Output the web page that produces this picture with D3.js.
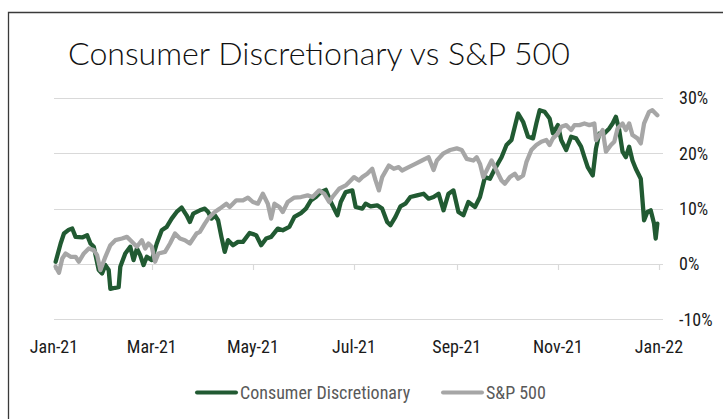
<!DOCTYPE html>
<html>
<head>
<meta charset="utf-8">
<script src="https://cdnjs.cloudflare.com/ajax/libs/d3/7.8.5/d3.min.js"></script>
<style>
    body { margin: 0; background: #fff; }
    svg { display: block; }
    .tick-label { font-family: "Liberation Sans Narrow", "Roboto Condensed", "Noto Sans", sans-serif; font-size: 18px; fill: #1a1a1a; }
    .legend-label { font-family: "Liberation Sans Narrow", "Roboto Condensed", "Noto Sans", sans-serif; font-size: 18px; fill: #595959; }
    .title { font-family: Lato, "Noto Sans", sans-serif; font-weight: 300; font-size: 30px; fill: #111; }
</style>
</head>
<body>
<div id="chart"></div>
<script>
// Consumer Discretionary sector, cumulative return 2021 (%)
const cdDates = ["2021-01-02","2021-01-05","2021-01-07","2021-01-10","2021-01-12","2021-01-14","2021-01-18","2021-01-21","2021-01-23","2021-01-25",
    "2021-01-28","2021-01-30","2021-02-01","2021-02-03","2021-02-04","2021-02-07","2021-02-09","2021-02-10","2021-02-13","2021-02-16",
    "2021-02-18","2021-02-20","2021-02-22","2021-02-24","2021-02-26","2021-03-01","2021-03-04","2021-03-07","2021-03-10","2021-03-13",
    "2021-03-16","2021-03-19","2021-03-22","2021-03-24","2021-03-26","2021-03-30","2021-04-02","2021-04-04","2021-04-06","2021-04-08",
    "2021-04-10","2021-04-12","2021-04-14","2021-04-16","2021-04-19","2021-04-22","2021-04-25","2021-04-29","2021-05-03","2021-05-06",
    "2021-05-09","2021-05-12","2021-05-16","2021-05-19","2021-05-23","2021-05-26","2021-05-30","2021-06-02","2021-06-05","2021-06-08",
    "2021-06-11","2021-06-14","2021-06-17","2021-06-20","2021-06-21","2021-06-23","2021-06-26","2021-06-30","2021-07-02","2021-07-06",
    "2021-07-08","2021-07-11","2021-07-15","2021-07-18","2021-07-21","2021-07-23","2021-07-26","2021-07-29","2021-08-01","2021-08-04",
    "2021-08-08","2021-08-12","2021-08-15","2021-08-18","2021-08-21","2021-08-24","2021-08-27","2021-08-30","2021-09-02","2021-09-05",
    "2021-09-08","2021-09-12","2021-09-15","2021-09-18","2021-09-21","2021-09-24","2021-09-28","2021-10-01","2021-10-04","2021-10-06",
    "2021-10-08","2021-10-11","2021-10-14","2021-10-17","2021-10-19","2021-10-21","2021-10-24","2021-10-27","2021-10-29","2021-11-01",
    "2021-11-03","2021-11-06","2021-11-09","2021-11-12","2021-11-15","2021-11-17","2021-11-19","2021-11-22","2021-11-24","2021-11-26",
    "2021-11-29","2021-12-02","2021-12-04","2021-12-06","2021-12-08","2021-12-10","2021-12-12","2021-12-14","2021-12-16","2021-12-18",
    "2021-12-21","2021-12-23","2021-12-25","2021-12-27","2021-12-29","2021-12-30","2021-12-31"];
const cdValues = [0.4, 3.7, 5.5, 6.2, 6.4, 4.9, 4.8, 5.2, 3.7, 3.1,
    -1.1, -1.7, -0.2, -1.1, -4.5, -4.3, -4.2, -0.5, 1.9, 3.1,
    0.7, 2.8, 1.6, -0.2, 1.3, 0.7, 3.7, 6.1, 6.7, 8.2,
    9.4, 10.2, 8.8, 7.6, 9.1, 9.7, 10.0, 9.4, 8.2, 8.8,
    7.9, 4.9, 2.2, 4.3, 3.4, 4.0, 4.0, 5.6, 5.2, 3.4,
    4.6, 4.9, 6.4, 6.1, 6.7, 8.5, 9.2, 10.0, 11.5, 12.1,
    13.0, 13.4, 11.2, 9.4, 8.8, 11.2, 13.0, 13.3, 10.3, 10.0,
    10.9, 10.4, 10.6, 10.0, 7.6, 7.0, 8.5, 10.4, 10.9, 12.1,
    12.4, 12.7, 11.8, 12.1, 12.7, 9.7, 12.7, 13.3, 9.4, 8.8,
    11.2, 10.3, 12.1, 15.7, 15.4, 17.2, 19.3, 21.5, 22.4, 24.8,
    27.2, 25.7, 23.0, 22.7, 25.4, 27.8, 27.5, 26.3, 23.6, 25.1,
    22.4, 20.6, 23.0, 22.7, 21.2, 19.3, 17.5, 16.0, 20.9, 23.6,
    23.6, 24.5, 25.4, 26.6, 24.2, 20.3, 19.3, 21.2, 18.7, 17.2,
    15.4, 7.9, 9.4, 9.7, 7.3, 4.6, 7.3];

// S&P 500, cumulative return 2021 (%)
const spDates = ["2021-01-02","2021-01-04","2021-01-06","2021-01-08","2021-01-11","2021-01-14","2021-01-16","2021-01-19","2021-01-22","2021-01-25",
    "2021-01-27","2021-01-29","2021-02-01","2021-02-04","2021-02-07","2021-02-11","2021-02-14","2021-02-17","2021-02-20","2021-02-23",
    "2021-02-25","2021-02-27","2021-03-01","2021-03-03","2021-03-05","2021-03-09","2021-03-12","2021-03-15","2021-03-18","2021-03-21",
    "2021-03-24","2021-03-28","2021-03-30","2021-04-02","2021-04-04","2021-04-06","2021-04-08","2021-04-11","2021-04-15","2021-04-17",
    "2021-04-21","2021-04-25","2021-04-28","2021-05-01","2021-05-04","2021-05-07","2021-05-10","2021-05-12","2021-05-14","2021-05-17",
    "2021-05-19","2021-05-22","2021-05-26","2021-05-30","2021-06-03","2021-06-06","2021-06-10","2021-06-13","2021-06-16","2021-06-18",
    "2021-06-22","2021-06-26","2021-06-29","2021-07-01","2021-07-04","2021-07-06","2021-07-09","2021-07-12","2021-07-14","2021-07-16",
    "2021-07-18","2021-07-22","2021-07-25","2021-07-28","2021-07-30","2021-08-03","2021-08-07","2021-08-11","2021-08-15","2021-08-18",
    "2021-08-20","2021-08-24","2021-08-28","2021-09-01","2021-09-04","2021-09-07","2021-09-11","2021-09-13","2021-09-15","2021-09-17",
    "2021-09-19","2021-09-22","2021-09-25","2021-09-28","2021-09-30","2021-10-03","2021-10-06","2021-10-08","2021-10-11","2021-10-13",
    "2021-10-16","2021-10-19","2021-10-22","2021-10-25","2021-10-27","2021-10-29","2021-11-01","2021-11-03","2021-11-06","2021-11-09",
    "2021-11-11","2021-11-14","2021-11-17","2021-11-20","2021-11-23","2021-11-24","2021-11-26","2021-11-28","2021-11-30","2021-12-03",
    "2021-12-05","2021-12-07","2021-12-10","2021-12-12","2021-12-14","2021-12-16","2021-12-19","2021-12-21","2021-12-23","2021-12-26",
    "2021-12-28","2021-12-31"];
const spValues = [-0.5, -1.6, 1.0, 1.9, 1.3, 1.3, 0.4, 1.9, 2.8, 2.5,
    1.6, -1.1, 1.3, 3.4, 4.3, 4.6, 4.9, 4.0, 3.1, 4.3,
    2.8, 3.7, 3.1, 0.4, 1.9, 2.2, 3.7, 5.5, 4.6, 4.3,
    3.7, 5.5, 5.8, 7.3, 8.2, 8.8, 9.4, 10.0, 10.9, 10.3,
    11.5, 11.5, 12.0, 11.2, 10.9, 12.7, 10.9, 8.2, 10.9, 10.3,
    9.4, 11.2, 12.0, 12.1, 12.4, 12.1, 13.3, 12.7, 11.2, 12.1,
    13.6, 14.2, 15.1, 15.7, 15.1, 15.7, 16.3, 17.2, 15.1, 13.3,
    15.7, 17.8, 17.2, 17.5, 16.9, 17.5, 18.1, 18.7, 19.3, 17.0,
    18.7, 20.0, 20.6, 20.9, 20.6, 19.0, 18.7, 19.3, 18.1, 15.7,
    16.9, 18.7, 16.9, 15.1, 14.5, 15.7, 16.3, 15.4, 16.0, 18.4,
    20.6, 21.5, 22.1, 22.4, 21.5, 22.7, 23.6, 24.8, 25.1, 24.2,
    25.1, 25.1, 25.4, 25.1, 25.4, 22.4, 23.3, 24.2, 20.3, 21.5,
    22.1, 24.5, 25.4, 24.2, 25.4, 23.3, 22.7, 21.8, 25.4, 27.5,
    27.8, 26.9];

const yTicks = [-10, 0, 10, 20, 30];
const xTickDates = ["2021-01-01","2021-03-01","2021-05-01","2021-07-01","2021-09-01","2021-11-01","2022-01-01"];
const seriesNames = ["Consumer Discretionary", "S&P 500"];
const seriesColors = ["#215a32", "#a6a6a6"];

const parseDate = d3.timeParse("%Y-%m-%d");
const cdData = cdDates.map((d, i) => ({date: parseDate(d), value: cdValues[i]}));
const spData = spDates.map((d, i) => ({date: parseDate(d), value: spValues[i]}));

const W = 723, H = 419;
const svg = d3.select("#chart").append("svg")
    .attr("width", W)
    .attr("height", H);

// frame
svg.append("path")
    .attr("d", `M8.5,${H} L8.5,12.5 L${W},12.5`)
    .attr("fill", "none")
    .attr("stroke", "#3a3a3a")
    .attr("stroke-width", 1.3);

// Title, sized to span the same width as the original
const title = svg.append("text")
    .attr("class", "title")
    .attr("x", 68)
    .attr("y", 65)
    .text("Consumer Discretionary vs S&P 500");
const titleLen = title.node().getComputedTextLength();
title.style("font-size", (30 * 502 / titleLen) + "px");

// Scales
const xScale = d3.scaleTime()
    .domain([parseDate("2021-01-01"), parseDate("2022-01-01")])
    .range([54, 659]);
const yScale = d3.scaleLinear()
    .domain([-10, 30])
    .range([319.3, 98]);
const gridRight = 663;

// Gridlines
svg.append("g")
    .selectAll("line")
    .data(yTicks)
    .join("line")
    .attr("x1", 54)
    .attr("x2", gridRight)
    .attr("y1", d => Math.round(yScale(d)) + 0.5)
    .attr("y2", d => Math.round(yScale(d)) + 0.5)
    .attr("stroke", "#d9d9d9")
    .attr("stroke-width", 1.2);

// x ticks on the zero line
const xTicks = xTickDates.map(parseDate);
svg.append("g")
    .selectAll("line")
    .data(xTicks)
    .join("line")
    .attr("x1", d => Math.round(xScale(d)) + 0.5)
    .attr("x2", d => Math.round(xScale(d)) + 0.5)
    .attr("y1", yScale(0))
    .attr("y2", yScale(0) + 6)
    .attr("stroke", "#d9d9d9")
    .attr("stroke-width", 1.2);

// y axis labels (right side)
svg.append("g")
    .selectAll("text")
    .data(yTicks)
    .join("text")
    .attr("class", "tick-label")
    .attr("x", 679)
    .attr("y", d => yScale(d))
    .attr("dy", "0.35em")
    .text(d => d + "%");

// x axis labels
const fmt = d3.timeFormat("%b-%y");
svg.append("g")
    .selectAll("text")
    .data(xTicks)
    .join("text")
    .attr("class", "tick-label")
    .attr("text-anchor", "middle")
    .attr("x", d => xScale(d))
    .attr("y", 353)
    .text(d => fmt(d));

// Lines
const line = d3.line()
    .x(d => xScale(d.date))
    .y(d => yScale(d.value));

[cdData, spData].forEach((data, i) => {
    svg.append("path")
        .datum(data)
        .attr("fill", "none")
        .attr("stroke", seriesColors[i])
        .attr("stroke-width", 4.3)
        .attr("stroke-linejoin", "round")
        .attr("stroke-linecap", "round")
        .attr("d", line);
});

// Legend
const legendX = [197, 443];
const legend = svg.append("g");
seriesNames.forEach((name, i) => {
    legend.append("line")
        .attr("x1", legendX[i])
        .attr("x2", legendX[i] + 39)
        .attr("y1", 392.5)
        .attr("y2", 392.5)
        .attr("stroke", seriesColors[i])
        .attr("stroke-width", 4)
        .attr("stroke-linecap", "round");
    legend.append("text")
        .attr("class", "legend-label")
        .attr("x", legendX[i] + 43)
        .attr("y", 392.5)
        .attr("dy", "0.35em")
        .text(name);
});
</script>
</body>
</html>
